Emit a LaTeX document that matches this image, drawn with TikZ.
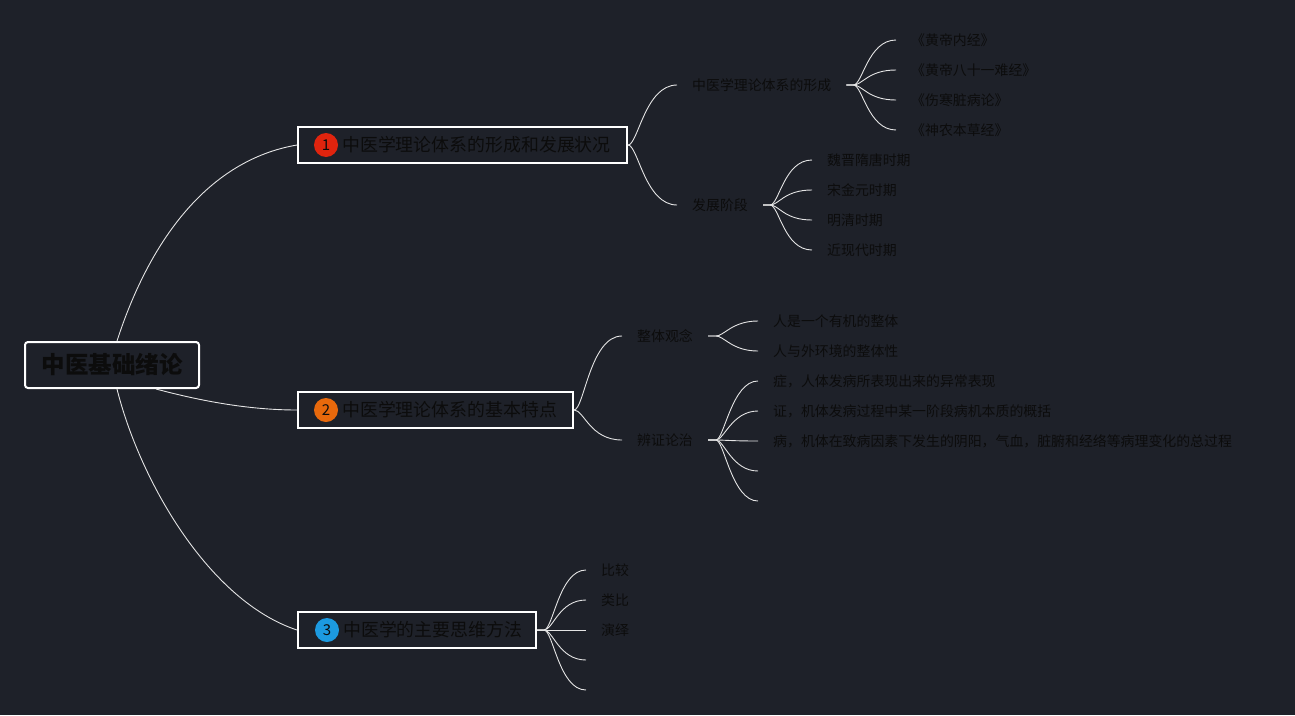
\documentclass[tikz,border=0pt]{standalone}
\usepackage{fontspec}
\setmainfont{Noto Sans CJK SC}
\definecolor{bg}{HTML}{1E2129}
\definecolor{linec}{HTML}{E4E4E4}
\definecolor{txtc}{HTML}{0C0C0C}
\definecolor{badgeA}{HTML}{E0240E}
\definecolor{badgeB}{HTML}{E8690C}
\definecolor{badgeC}{HTML}{1C9AE0}
\begin{document}
\begin{tikzpicture}[x=1pt,y=-1pt,
  conn/.style={draw=linec, line width=0.9pt},
  mainbox/.style={draw=white, line width=2pt, minimum height=36pt, inner sep=0pt},
  maintext/.style={text=txtc, anchor=west, inner sep=0pt, font=\fontsize{17.9}{20}\selectfont},
  badge/.style={circle, minimum size=24pt, inner sep=0pt, text=txtc, font=\fontsize{15}{16}\selectfont},
  subnode/.style={text=txtc, anchor=west, inner xsep=15pt, inner ysep=2pt, font=\fontsize{13.9}{16}\selectfont},
  leafnode/.style={subnode}
]
\fill[bg] (0,0) rectangle (1295,715);
\useasboundingbox (0,0) rectangle (1295,715);

% root
\node[draw=white, line width=2pt, rounded corners=3pt, minimum width=174pt, minimum height=46pt, inner sep=0pt,
      text=txtc, font=\fontsize{23.5}{26}\selectfont\bfseries] (root) at (112,365) {中医基础绪论};

% main boxes
\node[mainbox, minimum width=329pt] (b1) at (462.5,145) {};
\node[badge, fill=badgeA] (n1) at (326,145) {1};
\node[maintext] (t1) at (342,145) {中医学理论体系的形成和发展状况};

\node[mainbox, minimum width=275pt] (b2) at (435.5,410) {};
\node[badge, fill=badgeB] (n2) at (326,410) {2};
\node[maintext] (t2) at (342,410) {中医学理论体系的基本特点};

\node[mainbox, minimum width=238pt] (b3) at (417,630) {};
\node[badge, fill=badgeC] (n3) at (327,630) {3};
\node[maintext] (t3) at (343,630) {中医学的主要思维方法};

% root connectors
\draw[conn] ([xshift=5pt]root.north) .. controls +(33,-102) and +(-88,15) .. (b1.west);
\draw[conn] ([xshift=-44pt]root.south east) .. controls +(45,12) and +(-48,0) .. (b2.west);
\draw[conn] ([xshift=5pt]root.south) .. controls +(23,92) and +(-88,-29) .. (b3.west);

% sub nodes
\node[subnode] (s11) at (677,85) {中医学理论体系的形成};
\node[subnode] (s12) at (677,205) {发展阶段};
\node[subnode] (s21) at (622,336) {整体观念};
\node[subnode] (s22) at (622,440) {辨证论治};

\draw[conn] (b1.east) .. controls +(10,0) and +(-32,0) .. (s11.west);
\draw[conn] (b1.east) .. controls +(10,0) and +(-32,0) .. (s12.west);
\draw[conn] (b2.east) .. controls +(10,0) and +(-32,0) .. (s21.west);
\draw[conn] (b2.east) .. controls +(10,0) and +(-32,0) .. (s22.west);

% leaves of s11
\node[leafnode] (l111) at (896,40) {《黄帝内经》};
\node[leafnode] (l112) at (896,70) {《黄帝八十一难经》};
\node[leafnode] (l113) at (896,100) {《伤寒脏病论》};
\node[leafnode] (l114) at (896,130) {《神农本草经》};
\foreach \l in {l111,l112,l113,l114}
  \draw[conn] (s11.east) -- ++(7,0) .. controls +(9,0) and +(-28,0) .. (\l.west);

% leaves of s12
\node[leafnode] (l121) at (812,160) {魏晋隋唐时期};
\node[leafnode] (l122) at (812,190) {宋金元时期};
\node[leafnode] (l123) at (812,220) {明清时期};
\node[leafnode] (l124) at (812,250) {近现代时期};
\foreach \l in {l121,l122,l123,l124}
  \draw[conn] (s12.east) -- ++(7,0) .. controls +(9,0) and +(-28,0) .. (\l.west);

% leaves of s21
\node[leafnode] (l211) at (758,321) {人是一个有机的整体};
\node[leafnode] (l212) at (758,351) {人与外环境的整体性};
\foreach \l in {l211,l212}
  \draw[conn] (s21.east) -- ++(8,0) .. controls +(8,0) and +(-26,0) .. (\l.west);

% leaves of s22
\node[leafnode] (l221) at (758,381) {症，人体发病所表现出来的异常表现};
\node[leafnode] (l222) at (758,411) {证，机体发病过程中某一阶段病机本质的概括};
\node[leafnode] (l223) at (758,441) {病，机体在致病因素下发生的阴阳，气血，脏腑和经络等病理变化的总过程};
\coordinate (l224) at (758,471);
\coordinate (l225) at (758,501);
\foreach \l in {l221,l222,l223}
  \draw[conn] (s22.east) -- ++(8,0) .. controls +(8,0) and +(-26,0) .. (\l.west);
\foreach \l in {l224,l225}
  \draw[conn] (s22.east) -- ++(8,0) .. controls +(8,0) and +(-26,0) .. (\l);

% leaves of b3
\node[leafnode] (l31) at (586,570) {比较};
\node[leafnode] (l32) at (586,600) {类比};
\node[leafnode] (l33) at (586,630) {演绎};
\coordinate (l34) at (586,660);
\coordinate (l35) at (586,690);
\foreach \l in {l31,l32,l33}
  \draw[conn] (b3.east) -- ++(7,0) .. controls +(9,0) and +(-27,0) .. (\l.west);
\foreach \l in {l34,l35}
  \draw[conn] (b3.east) -- ++(7,0) .. controls +(9,0) and +(-27,0) .. (\l);
\end{tikzpicture}
\end{document}
